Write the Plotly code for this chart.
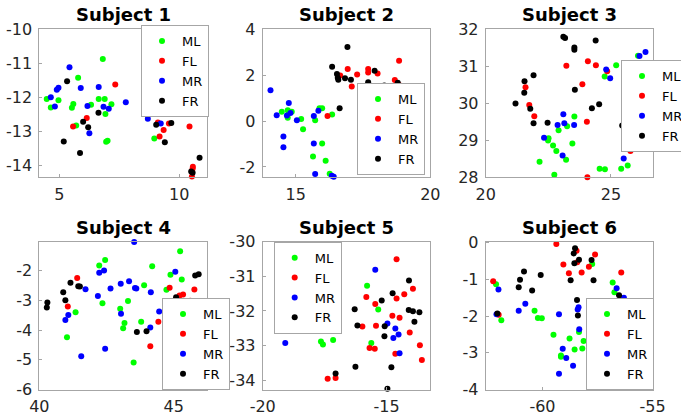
import plotly.graph_objects as go

# ---------------- data (x, y) per subject & group ----------------
s1_ml = [(6.81,-10.88),(9.04,-11.34),(5.78,-11.43),(4.47,-12.05),(4.96,-12.09),(4.64,-12.30),
         (5.58,-12.20),(5.52,-12.31),(6.32,-12.22),(6.64,-12.05),(6.89,-12.05),(6.92,-12.49),
         (7.17,-12.21),(6.95,-13.31),(7.01,-13.28),(5.70,-12.83),(8.73,-12.22),(8.68,-12.25),(8.96,-13.21)]
s1_fl = [(7.33,-11.63),(6.14,-12.61),(5.57,-12.86),(9.11,-12.74),(9.57,-12.77),(9.35,-12.96),
         (9.18,-13.15),(10.43,-12.86),(10.57,-14.04),(10.56,-14.10),(10.53,-14.33)]
s1_mr = [(5.42,-11.12),(5.89,-11.73),(4.96,-11.72),(4.89,-11.78),(4.64,-12.00),(4.81,-12.27),
         (6.64,-11.70),(6.17,-12.26),(6.84,-12.28),(7.06,-12.34),(7.77,-12.15),(6.25,-13.06),
         (8.55,-12.38),(8.69,-12.63),(9.23,-12.77)]
s1_fr = [(5.32,-11.53),(5.99,-12.72),(6.20,-12.88),(6.63,-12.46),(5.18,-13.30),(5.86,-13.64),
         (9.14,-12.29),(9.04,-12.81),(9.67,-12.76),(9.40,-13.32),(10.00,-12.15),(10.85,-13.78),
         (10.50,-14.18),(10.56,-14.22)]

s2_ml = [(14.48,0.41),(14.70,0.47),(14.74,0.41),(14.85,0.41),(14.70,0.15),(15.20,0.09),(15.27,-0.35),
         (15.72,0.04),(15.88,0.56),(15.98,0.56),(16.35,0.29),(15.98,-0.97),(15.64,-1.54),(16.11,-1.73),
         (16.26,-2.30)]
s2_fl = [(16.18,0.22),(16.65,1.99),(16.93,2.28),(17.08,1.51),(17.28,2.03),(17.69,2.28),(17.69,2.12),
         (18.04,2.08),(17.74,1.21),(18.84,2.63),(18.68,1.80),(18.84,1.58)]
s2_mr = [(14.06,1.35),(14.29,0.26),(14.74,0.79),(14.67,0.25),(14.80,0.35),(15.04,0.04),(14.54,-0.67),
         (14.54,-1.14),(15.67,0.22),(15.84,0.45),(15.67,-0.98),(15.72,-2.31),(16.34,-2.38),(16.41,-2.43)]
s2_fr = [(16.92,3.23),(16.35,2.37),(16.53,2.06),(16.56,1.89),(16.58,1.81),(16.83,1.87),(17.05,1.81),
         (17.41,1.42),(17.57,1.33),(17.69,1.70),(17.93,2.20),(17.93,1.42),(17.92,0.98),(18.29,1.55),
         (18.79,1.68),(19.02,1.39),(16.63,0.56)]

s3_ml = [(26.08,31.28),(25.21,31.02),(24.75,30.72),(25.87,29.59),(23.54,29.64),(23.25,29.38),
         (22.91,29.27),(22.51,29.05),(22.49,28.99),(22.69,28.86),(22.82,28.71),(23.46,28.91),
         (23.21,28.47),(22.15,28.42),(22.74,28.07),(24.55,28.23),(24.76,28.22),(25.41,28.23),(25.67,28.32)]
s3_fl = [(23.22,31.01),(24.08,31.13),(24.40,31.02),(24.85,30.86),(23.86,30.51),(21.59,30.43),
         (21.74,29.95),(21.94,29.65),(24.04,29.50),(25.78,28.71),(24.06,28.00)]
s3_mr = [(26.38,31.38),(26.14,31.27),(24.81,30.91),(24.97,30.67),(23.10,29.70),(22.87,29.41),
         (23.14,29.46),(23.53,29.41),(22.33,29.07),(23.07,28.59),(26.07,28.90),(25.51,28.51)]
s3_fr = [(23.10,31.79),(23.17,31.76),(23.54,31.50),(23.54,31.44),(24.39,31.69),(21.91,30.75),
         (21.55,30.59),(21.54,30.28),(21.19,29.99),(21.78,29.85),(23.56,30.36),(24.24,29.86),
         (24.53,29.97),(21.91,29.46),(22.47,29.47),(25.45,29.40)]

s4_ml = [(45.24,-1.34),(42.45,-1.64),(42.23,-1.82),(44.20,-1.85),(44.88,-2.13),(45.30,-2.29),
         (43.90,-2.49),(44.73,-2.64),(42.35,-3.09),(43.30,-3.02),(41.35,-3.40),(43.01,-3.28),
         (43.17,-3.76),(43.12,-3.94),(43.79,-3.72),(41.03,-4.24),(43.51,-5.09)]
s4_fl = [(41.41,-2.24),(41.06,-3.20),(44.85,-2.57),(45.35,-2.80),(45.22,-2.83),(45.77,-2.63),
         (45.62,-3.01),(44.43,-3.72),(44.69,-3.62),(45.17,-4.02),(44.13,-4.54)]
s4_mr = [(43.53,-1.03),(45.06,-2.03),(42.41,-1.99),(42.23,-2.07),(41.72,-2.62),(42.65,-2.60),
         (42.18,-2.85),(43.03,-2.44),(43.34,-2.35),(43.56,-2.58),(43.61,-2.60),(44.15,-2.72),
         (43.04,-3.45),(44.46,-3.37),(44.13,-3.91),(41.08,-3.49),(40.97,-3.66),(41.56,-4.88),(42.45,-4.63)]
s4_fr = [(40.30,-3.07),(40.28,-3.24),(40.89,-2.72),(40.97,-2.99),(41.16,-2.40),(41.45,-2.52),
         (41.51,-2.53),(45.09,-2.89),(44.83,-3.55),(43.63,-4.06),(43.99,-4.04),(45.80,-2.16),(45.93,-2.12)]

s5_ml = [(-19.41,-31.72),(-18.66,-32.30),(-18.53,-32.34),(-15.79,-31.27),(-15.34,-31.96),
         (-15.62,-32.93),(-17.65,-32.88),(-17.57,-32.97),(-17.16,-32.84)]
s5_fl = [(-14.60,-30.51),(-13.94,-31.36),(-14.29,-31.52),(-14.60,-31.64),(-15.82,-31.60),
         (-15.46,-31.80),(-14.77,-32.14),(-14.48,-32.20),(-17.35,-32.27),(-15.98,-32.45),
         (-15.43,-32.43),(-14.07,-32.62),(-15.69,-33.07),(-15.48,-33.09),(-14.65,-33.24),
         (-13.66,-32.99),(-13.58,-33.42),(-17.38,-33.96),(-17.06,-33.94)]
s5_mr = [(-19.18,-31.97),(-18.98,-32.10),(-18.94,-32.17),(-18.90,-32.21),(-18.52,-32.28),
         (-17.84,-32.26),(-17.74,-32.33),(-17.02,-32.25),(-16.99,-32.48),(-19.09,-32.93),
         (-15.46,-30.81),(-14.97,-32.36),(-14.65,-32.51),(-14.73,-32.78),(-14.52,-32.68),(-14.48,-33.22)]
s5_fr = [(-14.10,-31.12),(-14.76,-31.49),(-15.20,-31.70),(-16.29,-31.95),(-14.11,-31.97),
         (-13.94,-32.01),(-13.68,-32.04),(-13.88,-32.31),(-16.18,-32.42),(-15.08,-32.44),
         (-15.09,-32.73),(-16.26,-33.61),(-14.81,-33.63),(-17.06,-33.81),(-14.97,-34.25)]

s6_ml = [(-62.11,-1.13),(-61.87,-2.11),(-60.36,-1.85),(-60.21,-2.05),(-60.03,-2.06),(-59.50,-2.51),
         (-59.16,-3.07),(-59.16,-3.11),(-58.77,-2.61),(-58.34,-2.43),(-58.13,-2.68),(-58.54,-2.91),
         (-58.19,-2.88),(-57.74,-0.58),(-56.81,-1.08),(-56.73,-1.35),(-56.25,-1.64)]
s6_fl = [(-59.37,-0.03),(-57.61,-0.32),(-58.45,-0.22),(-58.42,-0.53),(-59.05,-0.59),(-58.80,-0.83),
         (-58.22,-0.81),(-57.89,-0.65),(-62.24,-1.05),(-61.99,-1.96),(-56.42,-0.81),(-56.40,-1.56)]
s6_mr = [(-62.00,-1.27),(-62.09,-1.95),(-61.08,-1.85),(-60.78,-1.66),(-59.25,-1.95),(-58.36,-1.76),
         (-58.40,-1.82),(-57.86,-1.78),(-58.33,-2.36),(-59.08,-2.89),(-58.92,-3.14),(-58.61,-3.35),
         (-59.25,-3.57),(-56.63,-1.24),(-56.30,-1.50)]
s6_fr = [(-58.52,-0.15),(-58.58,-0.29),(-58.34,-0.46),(-58.55,-0.56),(-57.77,-0.47),(-58.72,-1.02),
         (-57.68,-1.02),(-60.84,-0.78),(-61.02,-1.01),(-61.08,-1.21),(-60.08,-0.88),(-60.47,-1.30),
         (-58.43,-1.56),(-58.39,-1.98),(-62.05,-1.93),(-56.52,-1.43)]

group_names = ["ML", "FL", "MR", "FR"]
group_colors = ["#00ff00", "#ff0000", "#0000ff", "#000000"]
titles = ["Subject 1", "Subject 2", "Subject 3", "Subject 4", "Subject 5", "Subject 6"]
subjects = [
    [s1_ml, s1_fl, s1_mr, s1_fr],
    [s2_ml, s2_fl, s2_mr, s2_fr],
    [s3_ml, s3_fl, s3_mr, s3_fr],
    [s4_ml, s4_fl, s4_mr, s4_fr],
    [s5_ml, s5_fl, s5_mr, s5_fr],
    [s6_ml, s6_fl, s6_mr, s6_fr],
]
x_ticks = [[5, 10], [15, 20], [20, 25], [40, 45], [-20, -15], [-60, -55]]
y_ticks = [[-10, -11, -12, -13, -14], [4, 2, 0, -2], [28, 29, 30, 31, 32],
           [-2, -3, -4, -5, -6], [-30, -31, -32, -33, -34], [0, -1, -2, -3, -4]]
x_ranges = [[4.16, 11.16], [13.77, 20.0], [20.0, 26.66], [40.0, 46.24], [-20.0, -13.24], [-62.58, -55.0]]
y_ranges = [[-14.35, -10.0], [-2.45, 4.02], [28.0, 32.0], [-6.0, -1.02], [-34.27, -30.0], [-4.0, 0.03]]

# ---------------- layout geometry ----------------
W, H = 681, 417
col_px = [(39.3, 207.0), (262.7, 430.3), (485.7, 652.5)]
row_px = [(29.0, 177.3), (241.7, 389.5)]
# legend anchors: (x_px, y_px, xanchor, yanchor)
legend_pos = [(209, 25, "right", "top"), (425, 175, "right", "bottom"), (689, 60, "right", "top"),
              (230, 390, "right", "bottom"), (341.7, 241.7, "right", "top"), (654, 390, "right", "bottom")]

FONT = "DejaVu Sans"


def tick_text(vals):
    # hyphen-minus like the reference, not the unicode minus
    return [str(v) for v in vals]


fig = go.Figure()
layout = dict(width=W, height=H, paper_bgcolor="white", plot_bgcolor="white",
              margin=dict(l=0, r=0, t=0, b=0, autoexpand=False), showlegend=True,
              font=dict(family=FONT, color="#262626"))
annotations = []

for i in range(6):
    r, c = divmod(i, 3)
    ax_id = "" if i == 0 else str(i + 1)
    leg_id = "legend" if i == 0 else f"legend{i + 1}"
    for g in range(4):
        pts = subjects[i][g]
        fig.add_trace(go.Scatter(
            x=[p[0] for p in pts], y=[p[1] for p in pts], mode="markers",
            name=group_names[g], marker=dict(color=group_colors[g], size=6, line=dict(width=0)),
            xaxis="x" + ax_id, yaxis="y" + ax_id, legend=leg_id, cliponaxis=False))
    x0, x1 = col_px[c]
    y0, y1 = row_px[r]
    axis_common = dict(showline=True, mirror=True, linecolor="#a6a6a6", linewidth=1,
                       ticks="inside", ticklen=3, tickcolor="#a6a6a6", showgrid=False,
                       zeroline=False, tickfont=dict(family=FONT, size=16, color="#262626"))
    layout["xaxis" + ax_id] = dict(domain=[x0 / W, x1 / W], range=x_ranges[i], tickvals=x_ticks[i],
                                   ticktext=tick_text(x_ticks[i]),
                                   anchor="y" + ax_id, ticklabelstandoff=2, **axis_common)
    layout["yaxis" + ax_id] = dict(domain=[1 - y1 / H, 1 - y0 / H], range=y_ranges[i], tickvals=y_ticks[i],
                                   ticktext=tick_text(y_ticks[i]),
                                   anchor="x" + ax_id, ticklabelstandoff=3, **axis_common)
    lx, ly, xa, ya = legend_pos[i]
    layout[leg_id] = dict(x=lx / W, y=1 - ly / H, xanchor=xa, yanchor=ya, xref="paper", yref="paper",
                          bgcolor="white", bordercolor="#a6a6a6", borderwidth=1, itemwidth=30,
                          tracegroupgap=0, font=dict(family=FONT, size=13, color="#000000"))
    annotations.append(dict(text="<b>%s</b>" % titles[i], x=(x0 + x1) / 2 / W, y=1 - y0 / H,
                            xref="paper", yref="paper", xanchor="center", yanchor="bottom",
                            yshift=2, showarrow=False, font=dict(family=FONT, size=18, color="#000000")))

layout["annotations"] = annotations
fig.update_layout(**layout)
fig.write_html("out.html")
